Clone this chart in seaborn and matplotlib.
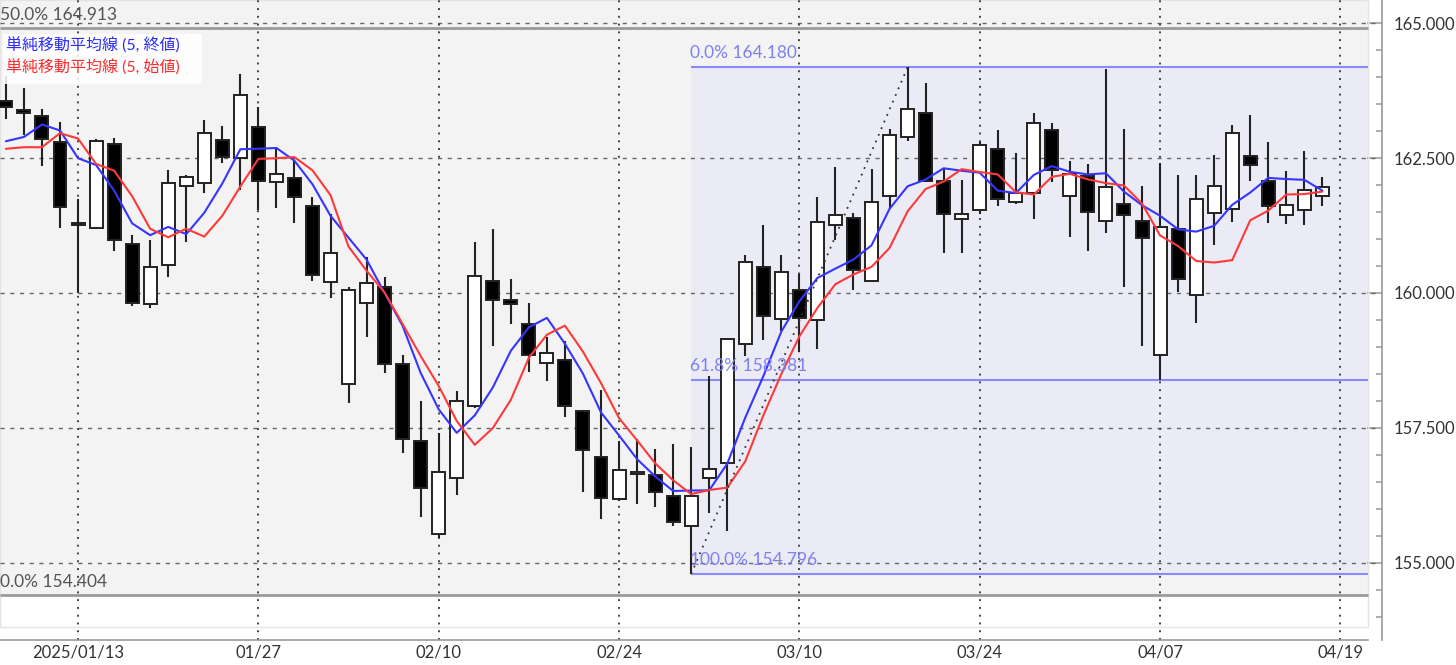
import numpy as np
import pandas as pd
import seaborn as sns
import matplotlib.pyplot as plt
from matplotlib.patches import Rectangle
from matplotlib.ticker import MultipleLocator, FixedLocator

# daily candles, 2025/01/07 - 2025/04/18 (trading days)
dates = pd.bdate_range("2025-01-07", "2025-04-18")

opens = [163.55, 163.38, 163.27, 162.80, 161.30, 161.20, 162.76, 160.90, 159.79, 160.51,
         161.99, 162.03, 162.83, 162.50, 163.07, 162.05, 162.13, 161.61, 160.20, 158.31,
         159.81, 160.12, 158.68, 157.25, 155.53, 156.57, 157.91, 160.23, 159.87, 159.43,
         158.70, 158.75, 157.82, 156.96, 156.19, 156.64, 156.63, 156.24, 155.68, 156.57,
         156.86, 159.06, 160.49, 159.52, 160.05, 159.50, 161.26, 161.39, 160.22, 161.80,
         162.89, 163.33, 162.08, 161.37, 161.53, 162.67, 161.69, 161.85, 163.02, 161.80,
         162.16, 161.34, 161.64, 161.34, 158.85, 161.18, 159.96, 161.49, 161.56, 162.54,
         162.08, 161.45, 161.53, 161.79]
highs = [164.02, 163.79, 163.40, 163.16, 161.75, 162.85, 162.87, 161.07, 160.98, 162.28,
         162.19, 163.20, 163.09, 164.06, 163.44, 162.67, 162.45, 161.78, 161.46, 160.11,
         160.67, 160.30, 158.85, 158.00, 157.41, 158.18, 160.95, 161.18, 160.25, 159.81,
         159.18, 159.12, 157.84, 158.20, 157.25, 157.29, 157.12, 157.21, 157.14, 158.46,
         159.17, 160.71, 161.26, 160.71, 160.36, 161.78, 162.34, 161.48, 162.30, 163.03,
         164.18, 163.88, 162.30, 162.10, 162.80, 163.01, 162.60, 163.34, 163.14, 162.45,
         162.38, 164.15, 163.03, 161.99, 162.41, 162.19, 162.19, 162.56, 163.12, 163.29,
         162.79, 162.26, 162.63, 162.14]
lows = [163.22, 162.92, 162.35, 161.20, 160.00, 161.18, 160.77, 159.75, 159.73, 160.30,
        160.95, 161.86, 162.41, 161.91, 161.53, 161.57, 161.30, 160.22, 159.91, 157.96,
        159.18, 158.52, 157.03, 155.86, 155.47, 156.26, 157.87, 159.01, 159.43, 158.53,
        158.37, 157.71, 156.32, 155.82, 156.15, 156.10, 156.03, 155.69, 154.796, 155.93,
        155.60, 158.83, 159.13, 159.29, 158.90, 158.97, 160.98, 160.06, 160.22, 161.56,
        162.81, 162.05, 160.74, 160.74, 161.46, 161.61, 161.64, 161.37, 162.06, 161.04,
        160.77, 161.11, 160.11, 159.02, 158.39, 160.01, 159.45, 160.88, 161.32, 162.08,
        161.30, 161.27, 161.26, 161.61]
closes = [163.44, 163.34, 162.85, 161.59, 161.26, 162.81, 160.98, 159.81, 160.49, 162.03,
          162.14, 162.96, 162.52, 163.66, 162.08, 162.21, 161.78, 160.34, 160.74, 160.05,
          160.18, 158.69, 157.29, 156.39, 156.68, 158.00, 160.31, 159.87, 159.79, 158.85,
          158.88, 157.91, 157.10, 156.20, 156.72, 156.69, 156.31, 155.75, 156.24, 156.74,
          159.15, 160.58, 159.58, 160.38, 159.54, 161.31, 161.45, 160.42, 161.69, 162.92,
          163.40, 162.08, 161.46, 161.46, 162.74, 161.74, 161.85, 163.14, 162.28, 162.21,
          161.50, 161.96, 161.44, 161.02, 161.23, 160.25, 161.74, 161.98, 162.96, 162.37,
          161.61, 161.63, 161.91, 161.96]

# moving average values for the first four days (earlier data is off-chart)
sma_close_lead = [162.81, 162.89, 163.12, 163.01]
sma_open_lead = [162.67, 162.70, 162.70, 162.96]

tick_pos = [4, 14, 24, 34, 44, 54, 64, 74]
tick_labels = ["2025/01/13", "01/27", "02/10", "02/24", "03/10", "03/24", "04/07", "04/19"]

fib_blue = [(0.0, 164.180), (61.8, 158.381), (100.0, 154.796)]
fib_blue_start = 38
fib_blue_end = 50
fib_gray = [(50.0, 164.913), (0.0, 154.404)]

legend_labels = ["単純移動平均線 (5, 終値)", "単純移動平均線 (5, 始値)"]

df = pd.DataFrame({"date": dates, "open": opens, "high": highs,
                   "low": lows, "close": closes})
df["i"] = np.arange(len(df))
df["sma_close"] = df["close"].rolling(5).mean()
df["sma_open"] = df["open"].rolling(5).mean()
df.loc[:3, "sma_close"] = sma_close_lead
df.loc[:3, "sma_open"] = sma_open_lead

sns.set_theme(style="white")
plt.rcParams["font.family"] = ["Lato", "Noto Sans CJK JP", "DejaVu Sans"]

fig = plt.figure(figsize=(14.56, 6.65), dpi=100)
ax = fig.add_axes([0, 0.0376, 0.9492, 0.9624])

x0, x1 = -0.327, 76.31
area_x1 = 75.53
y0, y1 = 153.574, 165.426
area_y0 = 153.815
ax.set_xlim(x0, x1)
ax.set_ylim(y0, y1)
ax.set_facecolor("white")

# gray fibonacci band / lines
ax.fill_between([x0, area_x1], fib_gray[1][1], y1, color="#f3f3f3", zorder=0, lw=0)
for pct, lvl in fib_gray:
    ax.hlines(lvl, x0, area_x1, color="#9a9a9a", lw=2, zorder=1)
    ax.text(x0 + 0.02, lvl + 0.09, f"{pct:.1f}% {lvl:.3f}",
            color="#555555", fontsize=12.5, va="bottom", ha="left")

# blue fibonacci retracement
ax.fill_between([fib_blue_start, area_x1], fib_blue[2][1], fib_blue[0][1],
                color="#ebebf6", zorder=0.5, lw=0)
for pct, lvl in fib_blue:
    ax.hlines(lvl, fib_blue_start, area_x1, color="#8a8aff", lw=1.5, zorder=1)
    ax.text(fib_blue_start - 0.05, lvl + 0.12, f"{pct:.1f}% {lvl:.3f}",
            color="#7f7ff0", fontsize=12.5, va="bottom", ha="left", zorder=7)
ax.plot([fib_blue_start, fib_blue_end], [fib_blue[2][1], fib_blue[0][1]],
        color="#333333", lw=1.3, ls=(0, (1, 3)), zorder=6)

# chart area frame
ax.add_patch(Rectangle((x0, area_y0), area_x1 - x0, y1 - area_y0, fill=False,
                       ec="#e4e4e4", lw=1, zorder=0.8))

# grid
for lvl in np.arange(155, 165.01, 2.5):
    ax.axhline(lvl, color="#666666", lw=1, ls=(0, (3, 4)), zorder=1.5)
for p in tick_pos:
    ax.axvline(p, color="#444444", lw=1.4, ls=(0, (1, 3)), zorder=1.5)

# candles
up = df["close"] >= df["open"]
ax.vlines(df["i"], df["low"], df["high"], color="#222222", lw=1.5, zorder=3)
body_low = np.minimum(df["open"], df["close"])
body_h = np.maximum((df["close"] - df["open"]).abs(), 0.035)
ax.bar(df["i"], body_h, bottom=body_low, width=0.72,
       color=np.where(up, "white", "black"), edgecolor="#222222", lw=1.4, zorder=4)

# moving averages
sns.lineplot(data=df, x="i", y="sma_close", color="#3535ff", lw=1.5, ax=ax, zorder=5)
sns.lineplot(data=df, x="i", y="sma_open", color="#ff3838", lw=1.5, ax=ax, zorder=5)

# legend box
ax.add_patch(Rectangle((0.002, 0.869), 0.144, 0.078, transform=ax.transAxes,
                       fc="white", ec="none", alpha=0.85, zorder=8))
ax.text(0.004, 0.928, legend_labels[0], transform=ax.transAxes, color="#2b2bff",
        fontsize=11.5, va="center", ha="left", zorder=9)
ax.text(0.004, 0.895, legend_labels[1], transform=ax.transAxes, color="#ff2b2b",
        fontsize=11.5, va="center", ha="left", zorder=9)

# axes
ax.set_xlabel("")
ax.set_ylabel("")
for s in ["top", "left"]:
    ax.spines[s].set_visible(False)
for s in ["bottom", "right"]:
    ax.spines[s].set_color("#999999")
    ax.spines[s].set_linewidth(1.2)
ax.spines["bottom"].set_bounds(x0, area_x1)

ax.xaxis.set_major_locator(FixedLocator(tick_pos))
ax.xaxis.set_minor_locator(FixedLocator(list(range(0, 76, 2))))
ax.set_xticklabels(tick_labels)
ax.tick_params(axis="x", which="major", direction="in", length=9.5, width=1.1,
               color="#999999", labelsize=12, labelcolor="#333333", pad=3)
ax.tick_params(axis="x", which="minor", direction="in", length=5.5, width=1.1,
               color="#999999")

ax.yaxis.tick_right()
ax.yaxis.set_major_locator(MultipleLocator(2.5))
ax.yaxis.set_minor_locator(MultipleLocator(0.5))
ax.yaxis.set_major_formatter(lambda v, _: f"{v:.3f}")
ax.tick_params(axis="y", which="major", direction="in", length=11, width=1.1,
               color="#999999", labelsize=12, labelcolor="#333333", pad=8)
ax.tick_params(axis="y", which="minor", direction="in", length=4.2, width=1.1,
               color="#999999")

fig.savefig("out.png", dpi=100)
